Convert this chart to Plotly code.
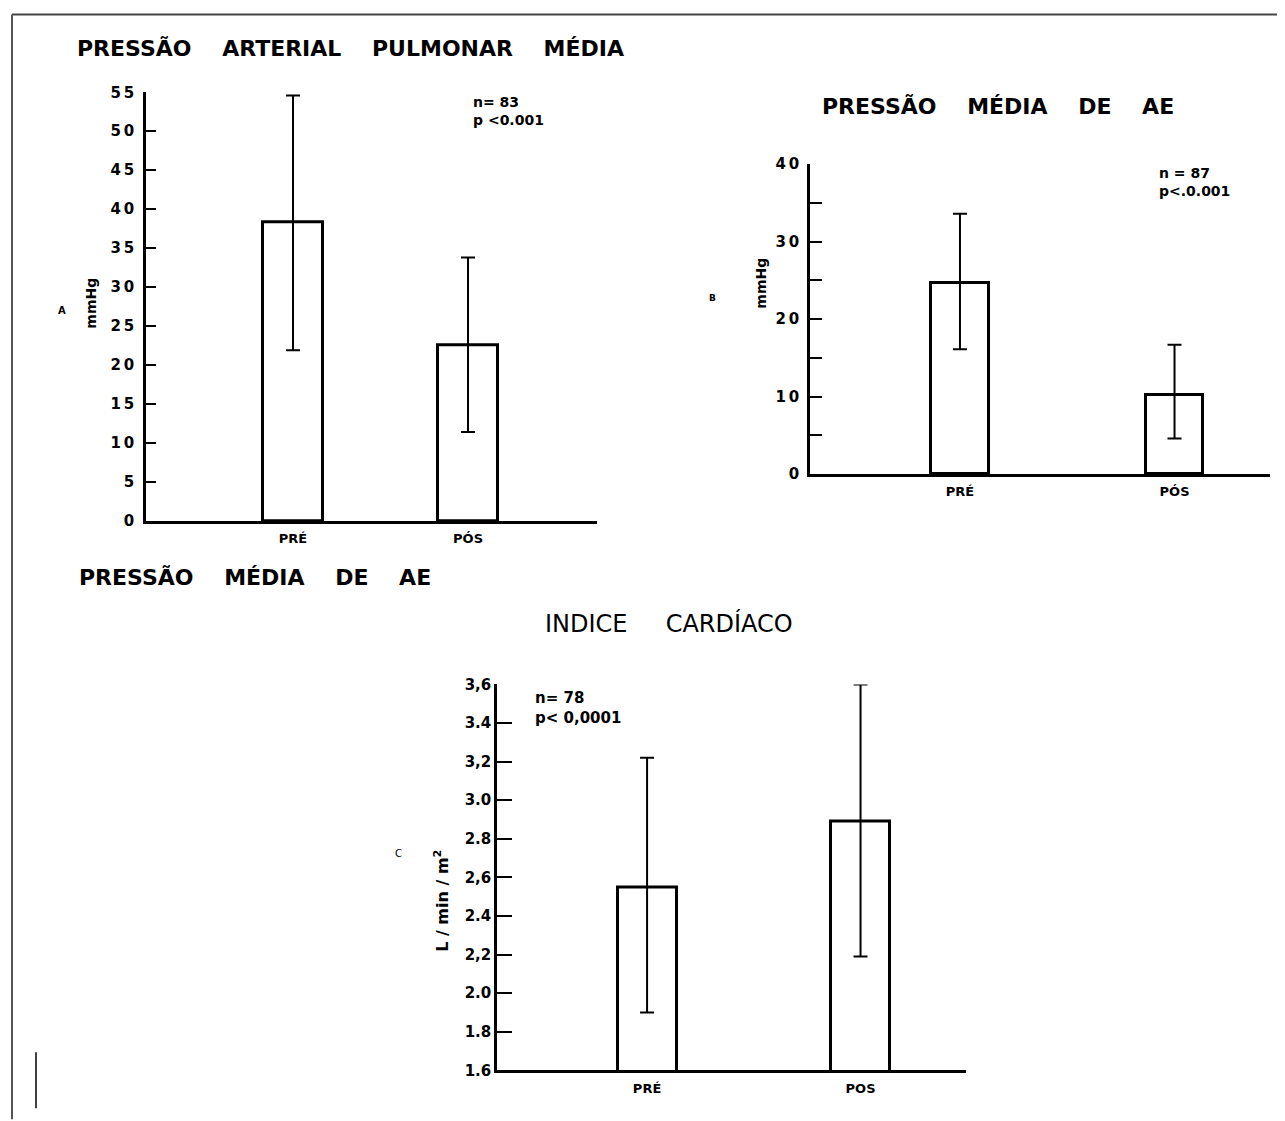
import plotly.graph_objects as go

# page is shown with a body margin; measured mapping of figure -> screen is used below
OFF_X = 8
OFF_Y = 15.5
SCALE_Y = 0.987
W, H = 1269, 1125

# ---------------- data ----------------
categories_ab = ["PRÉ", "PÓS"]
categories_c = ["PRÉ", "POS"]

# Panel A: Pressão arterial pulmonar média (mmHg)
a_mean = [38.3, 22.5]
a_err_up = [16.3, 11.3]
a_err_down = [16.4, 11.1]

# Panel B: Pressão média de AE (mmHg)
b_mean = [24.6, 10.2]
b_err_up = [9.0, 6.5]
b_err_down = [8.5, 5.6]

# Panel C: Índice cardíaco (L/min/m2)
c_mean = [2.55, 2.89]
c_err_up = [0.67, 0.71]
c_err_down = [0.65, 0.70]

a_ticks = [0, 5, 10, 15, 20, 25, 30, 35, 40, 45, 50, 55]
a_ticktext = ["0", "5", "1\u20090", "1\u20095", "2\u20090", "2\u20095", "3\u20090",
              "3\u20095", "4\u20090", "4\u20095", "5\u20090", "5\u20095"]
b_ticks = [0, 10, 20, 30, 40]
b_ticktext = ["0", "1\u20090", "2\u20090", "3\u20090", "4\u20090"]
c_ticks = [1.6, 1.8, 2.0, 2.2, 2.4, 2.6, 2.8, 3.0, 3.2, 3.4, 3.6]
c_ticktext = ["1.6", "1.8", "2.0", "2,2", "2.4", "2,6", "2.8", "3.0", "3,2", "3.4", "3,6"]


def X(px):
    return (px - OFF_X) / W


def Y(py):
    return 1 - ((py - OFF_Y) / SCALE_Y) / H


FONT = "DejaVu Sans"
sp = "\u00a0\u00a0\u00a0\u00a0"

fig = go.Figure()


def add_bars(mean, up, down, width, xa, ya):
    fig.add_trace(go.Bar(
        x=[1, 2], y=mean, width=width,
        marker=dict(color="white", line=dict(color="black", width=3)),
        error_y=dict(type="data", symmetric=False, array=up, arrayminus=down,
                     color="black", thickness=2, width=7),
        xaxis=xa, yaxis=ya, cliponaxis=False, showlegend=False,
        hoverinfo="skip"))


add_bars(a_mean, a_err_up, a_err_down, 0.343, "x", "y")
add_bars(b_mean, b_err_up, b_err_down, 0.266, "x2", "y2")
add_bars(c_mean, c_err_up, c_err_down, 0.276, "x3", "y3")

xcommon = dict(showline=True, linecolor="black", linewidth=2.5, ticks="",
               showgrid=False, zeroline=False, tickvals=[1, 2],
               tickfont=dict(family=FONT, size=13, color="black", weight="bold"),
               ticklabelstandoff=4)
ycommon = dict(showline=True, linecolor="black", linewidth=2.5, ticks="inside",
               tickwidth=2, tickcolor="black", showgrid=False, zeroline=False,
               tickfont=dict(family=FONT, size=15, color="black", weight="bold"))

fig.update_layout(
    width=W, height=H, margin=dict(l=0, r=0, t=0, b=0),
    paper_bgcolor="white", plot_bgcolor="rgba(0,0,0,0)",
    bargap=0,
    xaxis=dict(domain=[X(146), X(597)], range=[0.16, 2.737], anchor="y",
               ticktext=categories_ab, **xcommon),
    yaxis=dict(domain=[Y(521), Y(91)], range=[0, 55], anchor="x",
               tickvals=a_ticks, ticktext=a_ticktext, ticklen=10,
               ticklabelstandoff=6, **ycommon),
    xaxis2=dict(domain=[X(810), X(1270)], range=[0.301, 2.445], anchor="y2",
                ticktext=categories_ab, **xcommon),
    yaxis2=dict(domain=[Y(474), Y(163)], range=[0, 40], anchor="x2",
                tickvals=b_ticks, ticktext=b_ticktext, ticklen=12,
                ticklabelstandoff=5,
                minor=dict(dtick=5, tick0=0, ticks="inside", ticklen=12,
                           tickwidth=2, tickcolor="black", showgrid=False),
                **ycommon),
    xaxis3=dict(domain=[X(497), X(966)], range=[0.297, 2.494], anchor="y3",
                ticktext=categories_c, **xcommon),
    yaxis3=dict(domain=[Y(1072), Y(685)], range=[1.6, 3.6], anchor="x3",
                tickvals=c_ticks, ticktext=c_ticktext, ticklen=15, **ycommon),
)


def ann(text, px, py, size, xanchor="left", yanchor="middle", angle=0,
        bold=False, align="left"):
    fig.add_annotation(
        text=text, x=X(px), y=Y(py), xref="paper", yref="paper",
        xanchor=xanchor, yanchor=yanchor, textangle=angle, showarrow=False,
        align=align,
        font=dict(family=FONT, size=size, color="black",
                  weight="bold" if bold else "normal"))


ann("PRESSÃO" + sp + "ARTERIAL" + sp + "PULMONAR" + sp + "MÉDIA", 75, 47, 22, bold=True)
ann("A", 62, 310, 10, xanchor="center", bold=True)
ann("mmHg", 91, 303, 14, xanchor="center", angle=-90, bold=True)
ann("n= 83<br>p <0.001", 471, 110, 14, yanchor="middle", bold=True)

ann("PRESSÃO" + sp + "MÉDIA" + sp + "DE" + sp + "AE", 820, 105, 22, bold=True)
ann("B", 712, 297, 9, xanchor="center", bold=True)
ann("mmHg", 761, 283, 14, xanchor="center", angle=-90, bold=True)
ann("n = 87<br>p<.0.001", 1157, 181, 14, yanchor="middle", bold=True)

ann("PRESSÃO" + sp + "MÉDIA" + sp + "DE" + sp + "AE", 77, 578, 22, bold=True)

ann("INDICE" + "\u00a0" * 5 + "CARDÍACO", 543, 624, 24, bold=False)
ann("C", 398, 855, 10, xanchor="center")
ann("L / min / m<sup>2</sup>", 442, 902, 16, xanchor="center", angle=-90, bold=True)
ann("n= 78<br>p< 0,0001", 533, 709, 15, yanchor="middle", bold=True)

# page frame lines from the scan
fig.add_shape(type="line", xref="paper", yref="paper", x0=X(12), x1=X(1285),
              y0=Y(13), y1=Y(13), line=dict(color="#444", width=2))
fig.add_shape(type="line", xref="paper", yref="paper", x0=X(12), x1=X(12),
              y0=Y(13), y1=Y(1121), line=dict(color="#555", width=2))
fig.add_shape(type="line", xref="paper", yref="paper", x0=X(36), x1=X(36),
              y0=Y(1054), y1=Y(1110), line=dict(color="black", width=1.5))

fig.write_html("out.html")
